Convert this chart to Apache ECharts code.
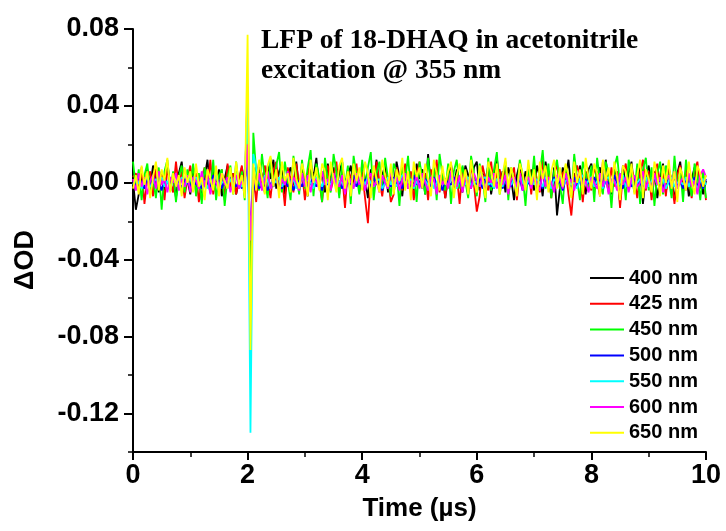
<!DOCTYPE html>
<html>
<head>
<meta charset="utf-8">
<script src="https://cdn.jsdelivr.net/npm/echarts@6/dist/echarts.min.js"></script>
<style>
html,body{margin:0;padding:0;background:#fff;}
#chart{width:726px;height:531px;}
</style>
</head>
<body>
<div id="chart"></div>
<script>
// ---- data ----
const T_START = 0;      // µs
const T_STEP = 0.05;    // µs, sampling step
const seriesNames = ['400 nm','425 nm','450 nm','500 nm','550 nm','600 nm','650 nm'];
const seriesColors = ['#000000','#ff0000','#00ff00','#0000ff','#00ffff','#ff00ff','#ffff00'];
const yMajorTicks = [-0.12,-0.08,-0.04,0,0.04,0.08];
const yMinorTicks = [-0.14,-0.10,-0.06,-0.02,0.02,0.06];

const od400 = [
.001,-.014,-.006,.004,-.003,.007,-.002,.009,.002,-.005,.006,-.004,.010,-.001,.003,-.008,.005,.011,-.003,.002,
-.006,.008,-.002,.004,-.009,.003,.012,-.004,.006,-.001,.007,-.007,.002,.009,-.003,.005,-.006,.001,.008,-.002,
.030,-.050,.008,-.002,.011,.004,-.005,.009,.002,.012,-.003,.006,.010,-.006,.004,.008,-.001,.011,-.004,.007,
.002,-.007,.009,.003,.013,-.002,.006,-.005,.010,.001,.008,-.003,.005,.011,-.006,.003,.009,-.001,.006,-.004,
.010,.002,-.008,.007,.001,.012,-.003,.004,.009,-.005,.006,-.002,.011,.003,-.007,.008,.000,.005,-.004,.010,
.002,.007,-.006,.015,-.001,.004,.009,-.003,.006,-.008,.003,.010,-.002,.007,.001,-.005,.009,.004,-.003,.008,
.011,-.004,.005,.001,.009,-.006,.003,.013,-.002,.006,-.005,.008,.002,-.009,.004,.010,-.003,.006,.000,.007,
-.004,.009,.003,-.007,.011,.001,-.006,.008,-.017,-.003,.008,.002,.012,-.004,.005,-.002,.009,.003,-.006,.007,
.010,-.003,.004,.008,-.005,.012,.001,-.006,.007,.003,-.010,.009,-.002,.005,.011,-.004,.002,.008,-.011,.004,
.009,-.002,.006,-.008,.003,.010,-.005,.007,.001,-.009,.005,.011,-.003,.006,-.007,.002,.008,-.004,.003,-.006,
.001];
const od425 = [
.003,.005,-.004,.008,-.011,.002,.006,-.007,.010,-.002,.004,-.009,.007,.001,-.005,.011,-.003,.006,-.008,.002,
.009,-.004,.005,-.010,.003,.008,-.002,.012,-.006,.004,-.001,.007,-.009,.010,-.003,.005,-.006,.002,.009,-.005,
.050,-.060,.004,-.010,.007,-.003,.009,.001,-.008,.006,.011,-.004,.003,-.012,.008,.002,-.005,.010,-.002,.006,
-.009,.004,.012,-.003,.007,.001,-.010,.005,.009,-.004,.002,.011,-.006,.004,-.013,.007,.003,-.002,.010,-.005,
.006,-.008,-.021,.004,-.004,.011,.001,-.007,.005,.003,-.010,-.006,.008,.002,-.004,.010,-.003,.006,-.009,.004,
.011,-.002,.005,-.009,.007,.001,.012,-.005,.003,-.008,.006,.009,-.003,.004,-.011,.008,.002,-.006,.010,-.001,
-.015,-.007,.009,.002,-.004,.011,-.003,.005,.007,-.002,.010,-.005,.003,.008,-.009,.006,.001,-.003,.009,-.006,
.008,.002,-.005,.012,-.001,.006,-.008,.004,.010,-.003,.005,.007,-.006,-.017,.001,.009,.003,-.010,.006,.002,
-.004,.009,.001,-.007,.011,.003,-.005,.008,-.002,.006,-.013,.004,.010,-.003,.007,.002,-.008,.005,.012,-.004,
.006,-.009,.003,.010,-.002,.005,-.007,.008,.001,-.011,.004,.009,-.005,.007,.002,-.008,.006,.011,-.003,.004,
-.009];
const od450 = [
.011,-.003,.007,-.009,.004,.010,-.006,.002,-.008,.008,-.014,.006,.012,-.004,.006,-.010,.003,.009,-.005,.007,
-.002,.010,-.007,.005,-.011,.008,.001,-.005,.012,-.009,.004,.007,-.012,.003,.009,-.006,.011,-.003,.006,-.009,
.040,-.070,.026,.006,-.004,.015,.002,-.008,.013,-.002,.009,.016,-.005,.011,.001,-.009,.014,.004,-.006,.012,
-.003,.008,.017,-.007,.010,.003,-.010,.013,.001,-.005,.015,.006,-.008,.011,-.002,.009,-.011,.014,.004,-.006,
.012,-.003,.008,.016,-.009,.005,.011,-.004,.013,.002,-.007,.010,.006,-.012,.009,.001,.014,-.005,.007,-.010,
.011,.003,-.006,.013,-.002,.008,-.009,.015,.004,-.004,.010,-.011,.006,.012,-.003,.009,.001,-.008,.014,.005,
-.007,.010,.002,-.010,.013,-.004,.007,.016,-.006,.003,.011,-.009,.008,.001,-.005,.012,.004,-.012,.009,-.002,
.014,-.006,.005,.017,-.003,.010,-.008,.006,.012,-.001,-.011,.009,.003,-.007,.015,.002,-.009,.011,.005,-.004,
.009,-.010,.013,.001,-.006,.011,.004,-.013,.008,.014,-.002,.006,-.009,.012,.003,-.005,.010,-.011,.007,.013,
-.004,.008,-.012,.005,.011,-.006,.009,.002,-.008,.014,-.003,.007,-.010,.012,.001,-.007,.010,.004,-.009,.006,
-.008];
const od500 = [
.001,-.002,.003,.000,-.003,.002,-.001,.004,-.002,.001,-.004,.002,.000,-.001,.003,-.002,.001,-.003,.002,.000,
-.002,.003,-.001,.001,-.003,.002,.000,-.002,.004,-.001,.001,-.003,.002,-.001,.003,.000,-.002,.001,-.003,.002,
.010,-.025,-.004,.001,-.003,-.001,.002,-.004,.000,-.002,.003,-.001,-.003,.001,-.002,.002,-.004,.000,.001,-.002,
.002,-.003,.000,.003,-.002,.001,-.004,.002,-.001,.000,.003,-.002,.001,-.003,.002,.000,-.001,.004,-.002,.001,
-.003,.002,.000,-.002,.003,-.001,.001,-.004,.002,.000,-.002,.003,-.001,.001,-.003,.002,.000,-.002,.004,-.001,
.001,-.003,.002,.000,-.002,.003,-.001,.001,-.004,.002,.000,-.001,.003,-.002,.001,-.003,.002,.000,-.002,.003,
-.001,.002,-.003,.001,.000,-.002,.004,-.001,.002,-.003,.001,.000,-.002,.003,-.001,.002,-.004,.001,.000,-.002,
.003,-.001,.001,-.003,.002,.000,-.002,.003,-.001,.001,-.004,.002,.000,-.002,.003,-.001,.001,-.003,.002,.000,
-.002,.003,-.001,.002,-.003,.001,.000,-.002,.004,-.001,.001,-.003,.002,.000,-.002,.003,-.001,.001,-.004,.002,
.000,-.002,.003,-.001,.001,-.003,.002,.000,-.002,.003,-.001,.001,-.003,.002,.000,-.001,.003,-.002,.001,-.003,
.002];
const od550 = [
-.001,.002,.000,-.003,.001,.003,-.002,.000,.002,-.001,.003,-.002,.001,-.004,.002,.000,-.001,.003,-.002,.001,
.002,-.001,.003,-.002,.000,.001,-.003,.002,-.001,.004,-.002,.000,.001,-.003,.002,-.001,.003,.000,-.002,.001,
.045,-.130,.015,.008,.002,-.002,.004,.001,-.003,.002,.000,.003,-.002,.001,.004,-.001,.002,-.003,.000,.003,
-.001,.002,.000,-.003,.003,.001,-.002,.002,.000,-.001,.004,-.002,.001,.000,-.003,.002,.001,-.002,.003,.000,
.002,-.001,.003,.000,-.002,.001,.002,-.003,.000,.003,-.001,.002,-.002,.001,.004,-.001,.000,.002,-.003,.001,
-.002,.003,.001,-.001,.002,-.003,.000,.004,-.001,.001,-.002,.003,.000,-.003,.002,.001,-.001,.003,-.002,.000,
.001,-.002,.002,.003,-.001,.000,-.003,.002,.001,-.002,.003,.000,-.001,.002,-.003,.004,.000,-.002,.001,.003,
-.001,.002,.000,-.002,.003,.001,-.003,.002,.000,.003,-.002,.001,.002,-.001,.000,-.003,.002,.004,-.001,.001,
.003,-.002,.001,.000,-.003,.002,.003,-.001,.001,-.002,.000,.004,-.002,.001,.002,-.003,.000,.002,-.001,.003,
-.002,.001,.003,-.001,.000,.002,-.003,.001,.003,-.002,.000,.001,-.001,.003,-.002,.002,.000,-.003,.001,.002,
-.001];
const od600 = [
.002,-.004,.005,-.002,.003,-.006,.001,.004,-.003,.006,-.001,.002,-.005,.003,.000,.005,-.004,.002,-.002,.004,
-.005,.003,.001,-.003,.006,-.002,.004,-.006,.002,.000,-.004,.005,-.001,.003,-.005,.002,.004,-.003,.001,-.002,
.020,-.030,.003,-.002,.005,-.004,.002,.006,-.003,.001,.004,-.005,.002,-.001,.006,-.003,.003,.000,-.004,.005,
-.002,.004,-.005,.003,.001,-.003,.006,-.001,.002,-.004,.005,.000,-.002,.004,-.006,.003,.001,-.003,.005,-.001,
.003,-.004,.002,.005,-.002,.001,-.005,.004,.000,-.003,.006,-.001,.003,-.004,.002,.005,-.003,.001,-.002,.004,
-.003,.005,.000,-.004,.003,.002,-.006,.004,-.001,.002,-.003,.006,.001,-.002,.004,-.005,.003,.000,-.003,.005,
.001,-.002,.004,-.005,.003,.000,.005,-.003,.002,-.001,.004,-.006,.002,.003,-.002,.005,-.004,.001,.003,-.003,
.004,-.001,-.004,.006,-.002,.003,.000,-.005,.004,.002,-.003,.005,-.001,.002,-.004,.003,.006,-.002,.001,-.005,
.003,.000,-.003,.005,-.002,.004,-.006,.002,.001,-.004,.005,-.001,.003,-.005,.002,.004,-.002,.000,.006,-.003,
.002,-.004,.005,-.001,.003,-.005,.001,.004,-.002,.006,-.003,.000,.003,-.004,.005,-.002,.001,-.006,.004,.007,
.003];
const od650 = [
-.003,.004,-.006,.009,-.001,.006,-.008,.003,.011,-.004,.007,.001,.013,-.005,.005,-.002,.004,-.007,.008,.000,
.006,-.005,.010,-.002,.003,-.009,.007,.002,-.004,.009,-.007,.005,.001,-.003,.008,-.006,.011,-.001,.004,-.008,
.077,-.087,.010,-.004,.012,.003,-.006,.009,.014,-.002,.007,-.008,.011,.001,.005,-.005,.013,.002,-.003,.010,
.004,-.007,.012,.000,.008,-.004,.010,.006,-.009,.011,.002,-.005,.009,.013,-.003,.006,-.007,.010,.001,.008,
-.004,.011,.005,-.008,.009,.002,-.005,.012,.004,-.002,.010,-.006,.007,.001,.013,-.004,.006,-.009,.011,.003,
.008,-.003,.010,.002,-.007,.012,.005,-.004,.009,-.001,.006,.011,-.008,.004,.010,-.002,.007,-.006,.012,.001,
-.005,.009,.003,-.008,.011,.006,-.002,.010,-.006,.004,.013,-.003,.008,.001,-.007,.010,.005,-.004,.012,-.001,
.007,-.009,.011,.002,.009,-.005,.006,.012,-.003,.008,-.002,.010,.004,-.008,.011,.000,.007,-.006,.013,.003,
-.003,.010,.005,-.007,.012,.001,.008,-.005,.011,.003,-.009,.009,.006,-.002,.010,-.006,.004,.012,-.008,.007,
.002,-.005,.011,.004,-.007,.009,.000,.012,-.003,.006,-.010,.008,.003,-.004,.011,.001,-.006,.009,.005,-.002,
.004];
const seriesValues = [od400, od425, od450, od500, od550, od600, od650];

// ---- chart ----
const chart = echarts.init(document.getElementById('chart'), null, {renderer: 'canvas'});
const FONT = 'Liberation Sans, Arial, sans-serif';

const series = seriesNames.map((name, k) => ({
  name: name,
  type: 'line',
  showSymbol: false,
  symbol: 'none',
  animation: false,
  color: seriesColors[k],
  lineStyle: {width: 1.8, color: seriesColors[k]},
  data: seriesValues[k].map((v, i) => [+(T_START + i * T_STEP).toFixed(4), v])
}));

chart.setOption({
  backgroundColor: '#ffffff',
  animation: false,
  title: {
    text: 'LFP of 18-DHAQ in acetonitrile\nexcitation @ 355 nm',
    left: 261, top: 26, padding: 0,
    textStyle: {fontFamily: 'Liberation Serif, Times New Roman, serif', fontWeight: 'bold', fontSize: 27.5, lineHeight: 30, color: '#000'}
  },
  legend: {
    orient: 'vertical', left: 590, top: 268, padding: 0,
    itemWidth: 34, itemHeight: 2, itemGap: 5.8, icon: 'rect',
    data: seriesNames,
    textStyle: {fontFamily: FONT, fontWeight: 'bold', fontSize: 20, lineHeight: 20, color: '#000'}
  },
  grid: {left: 133, right: 20, top: 29, bottom: 79, containLabel: false},
  xAxis: {
    type: 'value', min: 0, max: 10, interval: 2,
    name: 'Time (µs)', nameLocation: 'middle', nameGap: 44,
    nameTextStyle: {fontFamily: FONT, fontWeight: 'bold', fontSize: 26, color: '#000'},
    axisLine: {onZero: false, lineStyle: {color: '#000', width: 2}},
    axisTick: {length: 8, lineStyle: {color: '#000', width: 2}},
    minorTick: {show: true, splitNumber: 2, length: 5, lineStyle: {color: '#000', width: 1.5}},
    splitLine: {show: false},
    axisLabel: {fontFamily: FONT, fontWeight: 'bold', fontSize: 27, color: '#000', margin: 10}
  },
  yAxis: [{
    type: 'value', min: -0.14, max: 0.08,
    axisLine: {onZero: false, lineStyle: {color: '#000', width: 2}},
    axisTick: {customValues: yMajorTicks, length: 9, lineStyle: {color: '#000', width: 2}},
    splitLine: {show: false},
    axisLabel: {customValues: yMajorTicks, fontFamily: FONT, fontWeight: 'bold', fontSize: 27, color: '#000', margin: 14,
      formatter: v => (Math.abs(v) < 1e-9 ? 0 : v).toFixed(2)}
  }, {
    type: 'value', min: -0.14, max: 0.08, position: 'left',
    axisLine: {show: false, onZero: false},
    axisTick: {customValues: yMinorTicks, length: 5, lineStyle: {color: '#000', width: 1.5}},
    axisLabel: {show: false},
    splitLine: {show: false}
  }],
  graphic: [{
    type: 'text', x: 26, y: 260, rotation: Math.PI / 2,
    style: {text: 'ΔOD', fontFamily: FONT, fontWeight: 'bold', fontSize: 27, fill: '#000', align: 'center', verticalAlign: 'middle'}
  }],
  series: series
});
</script>
</body>
</html>
